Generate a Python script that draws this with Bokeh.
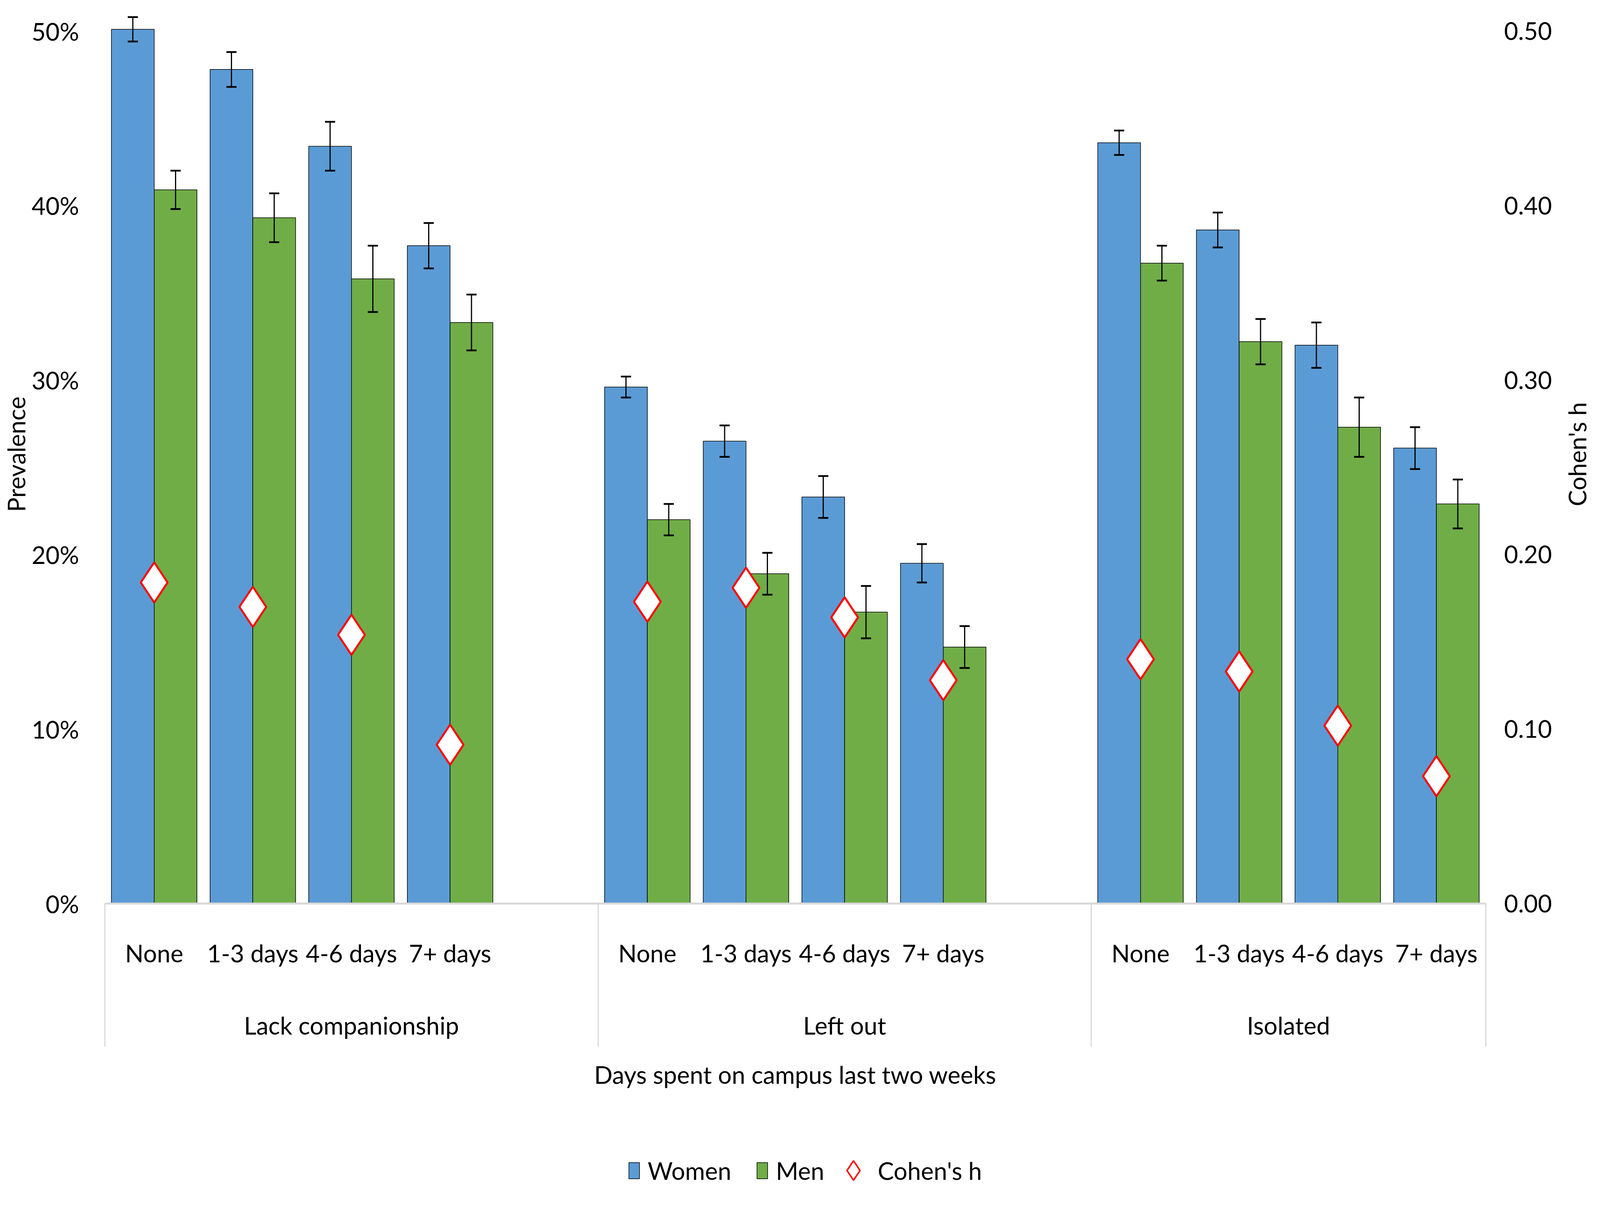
from bokeh.plotting import figure
from bokeh.layouts import column, row
from bokeh.models import (Range1d, LinearAxis, FixedTicker, PrintfTickFormatter,
                          ColumnDataSource, Whisker, TeeHead, Legend, LegendItem)
from bokeh.embed import file_html
from bokeh.resources import INLINE

# ---------------- data ----------------
groups = ["Lack companionship", "Left out", "Isolated"]
days = ["None", "1-3 days", "4-6 days", "7+ days"]
women = [50.1, 47.8, 43.4, 37.7, 29.6, 26.5, 23.3, 19.5, 43.6, 38.6, 32.0, 26.1]
women_err = [0.7, 1.0, 1.4, 1.3, 0.6, 0.9, 1.2, 1.1, 0.7, 1.0, 1.3, 1.2]
men = [40.9, 39.3, 35.8, 33.3, 22.0, 18.9, 16.7, 14.7, 36.7, 32.2, 27.3, 22.9]
men_err = [1.1, 1.4, 1.9, 1.6, 0.9, 1.2, 1.5, 1.2, 1.0, 1.3, 1.7, 1.4]
cohens_h = [0.184, 0.170, 0.154, 0.091, 0.173, 0.181, 0.164, 0.128, 0.140, 0.133, 0.102, 0.073]
y_ticks = [0, 10, 20, 30, 40, 50]
h_ticks = [0.0, 0.1, 0.2, 0.3, 0.4, 0.5]

# ---------------- category slots (one blank slot after each group, as in the original) ----------------
n_days = len(days)
slot_of = [g * (n_days + 1) + i for g in range(len(groups)) for i in range(n_days)]
n_slots = len(groups) * (n_days + 1) - 1
centers = [s + 0.5 for s in slot_of]
bw = 0.4335
xw = [c - bw / 2 for c in centers]
xm = [c + bw / 2 for c in centers]
group_bounds = [g * (n_days + 1) for g in range(len(groups))] + [n_slots]
group_centers = [(group_bounds[g] + group_bounds[g + 1]) / 2 for g in range(len(groups))]

FONT = "Lato"
FS = "62px"
BLUE = "#5B9BD5"
GREEN = "#70AD47"
GREY = "#D9D9D9"
W = 4080
LEFT_B = 266
WN = 84            # strip holding the right-hand title
MAIN_H = 2917
TOP_B, BOT_B = 12, 604

p = figure(width=W - WN, height=MAIN_H, x_range=Range1d(0, n_slots), y_range=Range1d(0, 51.5),
           output_backend="svg", toolbar_location=None,
           x_axis_location=None, y_axis_location=None,
           min_border_left=LEFT_B, min_border_right=277 - WN,
           min_border_top=TOP_B, min_border_bottom=BOT_B)
p.extra_y_ranges = {"h": Range1d(0, 0.515)}
p.xgrid.visible = False
p.ygrid.visible = False
p.outline_line_color = None

src = ColumnDataSource(dict(
    xw=xw, xm=xm, xc=centers, women=women, men=men, h=cohens_h,
    wl=[v - e for v, e in zip(women, women_err)], wu=[v + e for v, e in zip(women, women_err)],
    ml=[v - e for v, e in zip(men, men_err)], mu=[v + e for v, e in zip(men, men_err)],
))

p.vbar(x="xw", top="women", width=bw, source=src, fill_color=BLUE, line_color="black", line_width=1.5)
p.vbar(x="xm", top="men", width=bw, source=src, fill_color=GREEN, line_color="black", line_width=1.5)

for base, lo, up in (("xw", "wl", "wu"), ("xm", "ml", "mu")):
    w = Whisker(source=src, base=base, lower=lo, upper=up, line_width=3, line_color="black",
                upper_head=TeeHead(size=26, line_width=4.5, line_color="black"),
                lower_head=TeeHead(size=26, line_width=4.5, line_color="black"),
                level="overlay")
    p.add_layout(w)

p.scatter(x="xc", y="h", source=src, y_range_name="h", marker="diamond",
          size=103, fill_color="white", line_color="red", line_width=5)

def style_labels(ax):
    ax.major_label_text_font = FONT
    ax.major_label_text_font_size = FS
    ax.major_label_text_color = "black"
    ax.axis_label_text_font = FONT
    ax.axis_label_text_font_size = FS
    ax.axis_label_text_font_style = "normal"
    ax.axis_label_text_color = "black"
    ax.major_tick_line_color = None
    ax.minor_tick_line_color = None
    ax.major_tick_out = 0
    ax.major_tick_in = 0
    ax.minor_tick_out = 0
    ax.minor_tick_in = 0

# left axis
ly = LinearAxis(ticker=FixedTicker(ticks=y_ticks), formatter=PrintfTickFormatter(format="%d%%"),
                axis_label="Prevalence")
style_labels(ly)
ly.axis_line_color = None
ly.major_label_standoff = 66
ly.axis_label_standoff = 0
p.add_layout(ly, "left")

# right axis (tick labels only; its title sits in the strip to the right)
ry = LinearAxis(y_range_name="h", ticker=FixedTicker(ticks=h_ticks),
                formatter=PrintfTickFormatter(format="%.2f"))
style_labels(ry)
ry.axis_line_color = None
ry.major_label_standoff = 47
p.add_layout(ry, "right")

# bottom axis 1: day labels + group separators (minor ticks at group boundaries)
day_labels = {c: days[i % n_days] for i, c in enumerate(centers)}
bx = LinearAxis(ticker=FixedTicker(ticks=centers, minor_ticks=[float(b) for b in group_bounds]),
                major_label_overrides=day_labels)
style_labels(bx)
bx.axis_line_color = GREY
bx.axis_line_width = 5
bx.minor_tick_line_color = GREY
bx.minor_tick_line_width = 3
bx.minor_tick_out = 366
bx.major_label_standoff = -277
p.add_layout(bx, "below")

# bottom axis 2: group labels + title
gx = LinearAxis(ticker=FixedTicker(ticks=group_centers),
                major_label_overrides={c: groups[i] for i, c in enumerate(group_centers)},
                axis_label="Days spent on campus last two weeks")
style_labels(gx)
gx.axis_line_color = None
gx.major_label_standoff = 108
gx.axis_label_standoff = 49
p.add_layout(gx, "below")

# ---------------- narrow strip: secondary axis title (reads bottom-to-top) ----------------
nf = figure(width=WN, height=MAIN_H, x_range=Range1d(0, 1), y_range=Range1d(0, 1),
            output_backend="svg", toolbar_location=None,
            x_axis_location=None, y_axis_location=None,
            min_border_left=0, min_border_right=0, min_border_top=TOP_B, min_border_bottom=BOT_B)
nf.xgrid.visible = False
nf.ygrid.visible = False
nf.outline_line_color = None
ht = LinearAxis(ticker=FixedTicker(ticks=[]), axis_label="Cohen's h")
style_labels(ht)
ht.axis_line_color = None
ht.major_label_standoff = 0
ht.axis_label_standoff = 0
nf.add_layout(ht, "left")

# ---------------- legend strip ----------------
LH = 3077 - MAIN_H
lf = figure(width=W, height=LH, x_range=Range1d(0, 1), y_range=Range1d(0, 1),
            output_backend="svg", toolbar_location=None,
            x_axis_location=None, y_axis_location=None,
            min_border_left=LEFT_B, min_border_right=0, min_border_top=0, min_border_bottom=0)
lf.xgrid.visible = False
lf.ygrid.visible = False
lf.outline_line_color = None
# proxy renderers (placed outside the visible range) that only feed the legend
lw = lf.vbar(x=[-5], top=[-5], width=0.1, fill_color=BLUE, line_color="black", line_width=1.5)
lm = lf.vbar(x=[-5], top=[-5], width=0.1, fill_color=GREEN, line_color="black", line_width=1.5)
lh = lf.scatter(x=[-5], y=[-5], marker="diamond", fill_color="white", line_color="red", line_width=4)

def style_legend(lg, gw, gh, standoff):
    lg.label_text_font = FONT
    lg.label_text_font_size = FS
    lg.label_text_color = "black"
    lg.glyph_width = gw
    lg.glyph_height = gh
    lg.label_standoff = standoff
    lg.spacing = 62
    lg.padding = 0
    lg.margin = 0
    lg.border_line_color = None
    lg.background_fill_color = None
    lg.background_fill_alpha = 0

mid = LH / 2
leg_a = Legend(items=[LegendItem(label="Women", renderers=[lw]),
                      LegendItem(label="Men", renderers=[lm])],
               orientation="horizontal", location=(1606 - LEFT_B, mid - 37))
style_legend(leg_a, 34, 52, 18)
lf.add_layout(leg_a, "center")

leg_b = Legend(items=[LegendItem(label="Cohen's h", renderers=[lh])],
               orientation="horizontal", location=(1856, mid - 62))
style_legend(leg_b, 125, 125, 0)
lf.add_layout(leg_b, "center")

page = column(row(p, nf, spacing=0), lf, spacing=0)
open("out.html", "w").write(file_html(page, INLINE))
